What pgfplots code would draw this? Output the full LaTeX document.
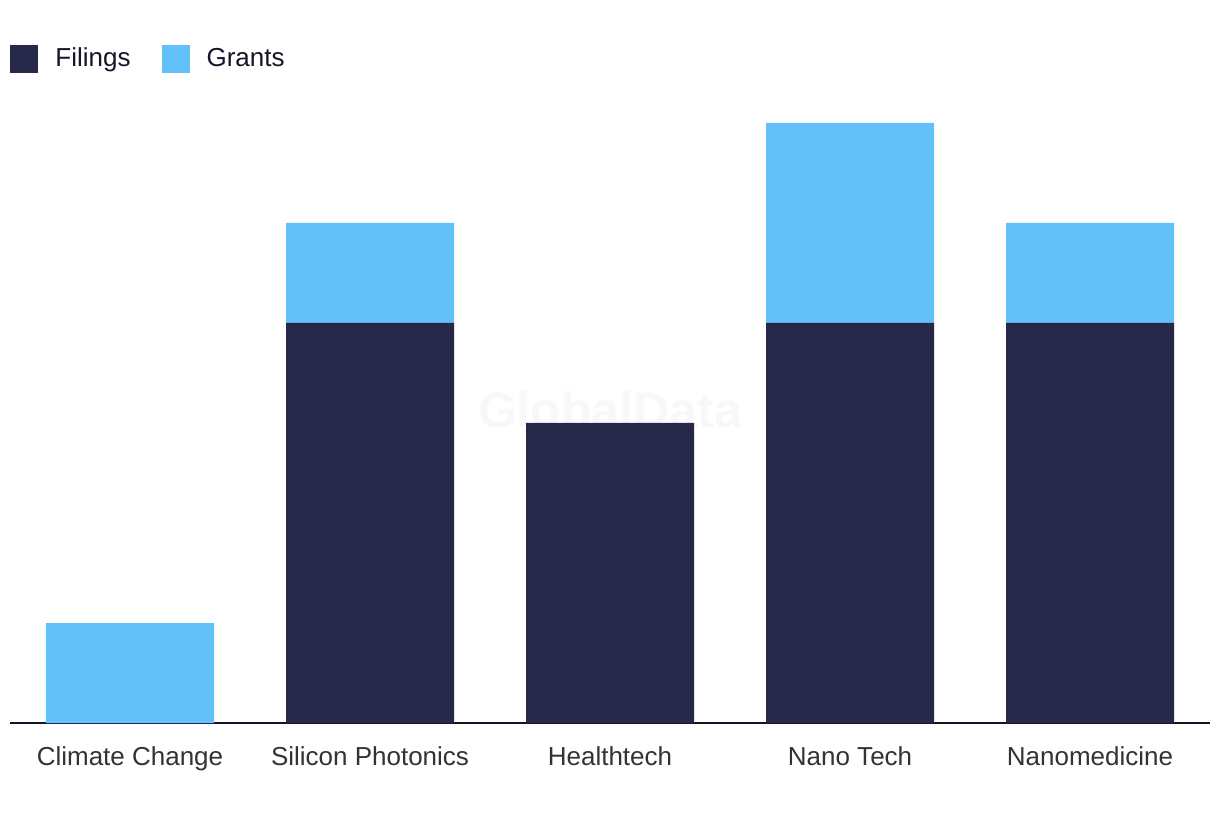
\documentclass[border=0pt]{standalone}
\usepackage{pgfplots}
\pgfplotsset{compat=1.18}
\usepackage{fontspec}
\setmainfont{Liberation Sans}
\definecolor{navy}{HTML}{272849}
\definecolor{sky}{HTML}{62C1F8}
\definecolor{basel}{HTML}{15152A}
\definecolor{lab}{HTML}{333333}
\begin{document}
\begin{tikzpicture}
\useasboundingbox (-5pt,-48.5pt) rectangle (605pt,361.5pt);
\begin{axis}[
  at={(0,0)}, anchor=south west,
  scale only axis, width=600pt, height=300pt,
  ybar stacked, bar width=84pt,
  xmin=-0.5, xmax=4.5, ymin=0, ymax=6,
  xtick={0,1,2,3,4},
  xticklabels={Climate Change,Silicon Photonics,Healthtech,Nano Tech,Nanomedicine},
  xticklabel style={anchor=base, inner sep=0pt, yshift=-21pt, font=\fontsize{13}{15}\selectfont, text=lab},
  major tick length=0pt,
  ytick=\empty,
  axis x line*=bottom, axis y line=none,
  x axis line style={draw=basel, line width=1pt, -},
  clip=false,
  legend style={at={(0,1)}, anchor=west, yshift=32pt, draw=none, fill=none, inner sep=0pt,
    font=\fontsize{13}{15}\selectfont, text=basel, legend columns=2,
    /tikz/every even column/.append style={column sep=7pt},
    nodes={inner xsep=8.5pt, inner ysep=0pt}},
  legend image code/.code={\fill[#1] (0pt,-7pt) rectangle (14pt,7pt);},
]
\addplot[fill=navy, draw=none] coordinates {(0,0) (1,4) (2,3) (3,4) (4,4)};
\addplot[fill=sky, draw=none] coordinates {(0,1) (1,1) (2,0) (3,2) (4,1)};
\legend{Filings,Grants}
\node[font=\bfseries\fontsize{25}{27}\selectfont, text=gray!45, opacity=0.12] at (axis cs:2,3.13) {GlobalData};
\end{axis}
\end{tikzpicture}
\end{document}
